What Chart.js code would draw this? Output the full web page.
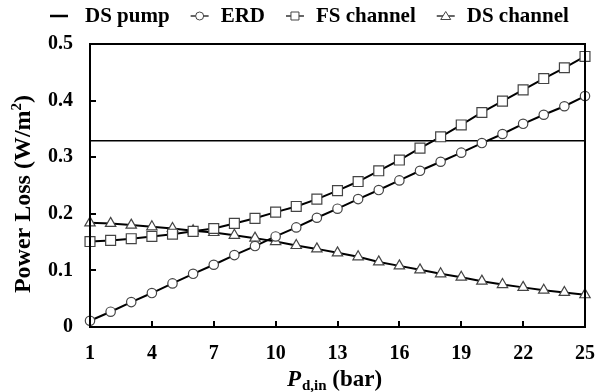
<!DOCTYPE html>
<html>
<head>
<meta charset="utf-8">
<script src="https://cdn.jsdelivr.net/npm/chart.js@4.4.1/dist/chart.umd.min.js"></script>
<style>
html,body{margin:0;padding:0;background:#fff;}
#wrap{width:610px;height:392px;}
</style>
</head>
<body>
<div id="wrap"><canvas id="c" width="610" height="392"></canvas></div>
<script>
// ---- data ----
const pressure = [1,2,3,4,5,6,7,8,9,10,11,12,13,14,15,16,17,18,19,20,21,22,23,24,25];
const erdLoss = [0.011,0.027,0.044,0.060,0.077,0.094,0.110,0.127,0.143,0.160,0.176,0.193,0.209,0.226,0.242,0.259,0.276,0.292,0.308,0.325,0.341,0.359,0.375,0.390,0.408];
const fsChannelLoss = [0.151,0.153,0.156,0.160,0.164,0.169,0.174,0.183,0.192,0.203,0.213,0.226,0.241,0.257,0.276,0.295,0.316,0.336,0.357,0.379,0.399,0.419,0.439,0.458,0.478];
const dsChannelLoss = [0.184,0.183,0.180,0.177,0.174,0.170,0.167,0.162,0.157,0.151,0.144,0.138,0.131,0.124,0.115,0.108,0.101,0.094,0.088,0.081,0.075,0.070,0.065,0.061,0.057];
const dsPumpX = [1,25];
const dsPumpLoss = [0.329,0.329];
const seriesNames = ['DS pump','ERD','FS channel','DS channel'];
const xTicks = [1,4,7,10,13,16,19,22,25];
const yTicks = [0,0.1,0.2,0.3,0.4,0.5];

const FONT = '"Liberation Serif", "Times New Roman", serif';
const toXY = (xs, ys) => xs.map((x, i) => ({x: x, y: ys[i]}));

const markerStyle = {
  borderColor: '#000', borderWidth: 2, pointBackgroundColor: '#fff',
  pointBorderColor: '#444', pointBorderWidth: 1.2, tension: 0, clip: false
};

const framePlugin = {
  id: 'frame',
  beforeDatasetsDraw(chart) {
    const {ctx, chartArea: a, scales} = chart;
    ctx.save();
    ctx.strokeStyle = '#000';
    ctx.lineWidth = 2;
    const xs = scales.x, ys = scales.y;
    ctx.beginPath();
    xs.ticks.forEach(t => {
      if (t.value === xs.min || t.value === xs.max) return;
      const px = Math.round(xs.getPixelForValue(t.value));
      ctx.moveTo(px, a.bottom); ctx.lineTo(px, a.bottom - 6);
    });
    ys.ticks.forEach(t => {
      if (t.value === ys.min || t.value === ys.max) return;
      const py = Math.round(ys.getPixelForValue(t.value));
      ctx.moveTo(a.left, py); ctx.lineTo(a.left + 6, py);
    });
    ctx.stroke();
    ctx.restore();
  },
  afterDraw(chart) {
    const {ctx, chartArea: a} = chart;
    ctx.save();
    ctx.strokeStyle = '#000';
    ctx.lineWidth = 2;
    ctx.strokeRect(a.left, a.top, a.right - a.left, a.bottom - a.top);

    // legend
    ctx.fillStyle = '#000';
    ctx.font = 'bold 21px ' + FONT;
    ctx.textBaseline = 'middle';
    ctx.textAlign = 'left';
    const ly = 16;
    let x = 50;
    const styles = [null, 'circle', 'rect', 'triangle'];
    seriesNames.forEach((name, i) => {
      ctx.beginPath();
      ctx.lineWidth = i === 0 ? 2.5 : 1.2;
      ctx.strokeStyle = '#000';
      ctx.moveTo(x, ly); ctx.lineTo(x + 18, ly);
      ctx.stroke();
      const cx = x + 9;
      ctx.lineWidth = 1;
      ctx.strokeStyle = '#444';
      ctx.fillStyle = '#fff';
      if (styles[i] === 'circle') {
        ctx.beginPath(); ctx.arc(cx, ly, 4, 0, Math.PI * 2); ctx.fill(); ctx.stroke();
      } else if (styles[i] === 'rect') {
        ctx.beginPath(); ctx.rect(cx - 4, ly - 4, 8, 8); ctx.fill(); ctx.stroke();
      } else if (styles[i] === 'triangle') {
        ctx.beginPath(); ctx.moveTo(cx, ly - 4.5); ctx.lineTo(cx + 5, ly + 3.5); ctx.lineTo(cx - 5, ly + 3.5); ctx.closePath(); ctx.fill(); ctx.stroke();
      }
      ctx.fillStyle = '#000';
      const tx = x + 18 + (i === 0 ? 17 : 12);
      ctx.fillText(name, tx, ly + 1);
      x = tx + ctx.measureText(name).width + 21;
    });

    // x title: P_d,in (bar)
    const cxT = (a.left + a.right) / 2 - 3;
    const by = 386;
    const f1 = 'italic bold 23px ' + FONT, f2 = 'bold 15px ' + FONT, f3 = 'bold 23px ' + FONT;
    ctx.textBaseline = 'alphabetic';
    ctx.font = f1; const w1 = ctx.measureText('P').width;
    ctx.font = f2; const w2 = ctx.measureText('d,in').width;
    ctx.font = f3; const w3 = ctx.measureText(' (bar)').width;
    let sx = cxT - (w1 + w2 + w3 + 1) / 2;
    ctx.font = f1; ctx.fillText('P', sx, by); sx += w1 + 1;
    ctx.font = f2; ctx.fillText('d,in', sx, by + 4); sx += w2;
    ctx.font = f3; ctx.fillText(' (bar)', sx, by);

    // y title
    ctx.save();
    ctx.translate(24, 194);
    ctx.rotate(-Math.PI / 2);
    const g1 = 'bold 24px ' + FONT, g2 = 'bold 15px ' + FONT;
    ctx.font = g1; const m1 = ctx.measureText('Power Loss (W/m').width;
    ctx.font = g2; const m2 = ctx.measureText('2').width;
    ctx.font = g1; const m3 = ctx.measureText(')').width;
    let px = -(m1 + m2 + m3) / 2;
    ctx.textBaseline = 'middle';
    ctx.font = g1; ctx.fillText('Power Loss (W/m', px, 0); px += m1;
    ctx.font = g2; ctx.fillText('2', px, -7); px += m2;
    ctx.font = g1; ctx.fillText(')', px, 0);
    ctx.restore();

    ctx.restore();
  }
};

new Chart(document.getElementById('c'), {
  type: 'line',
  data: {
    datasets: [
      Object.assign({label: seriesNames[1], data: toXY(pressure, erdLoss), pointStyle: 'circle', pointRadius: 4.7}, markerStyle),
      Object.assign({label: seriesNames[2], data: toXY(pressure, fsChannelLoss), pointStyle: 'rect', pointRadius: 7}, markerStyle),
      Object.assign({label: seriesNames[3], data: toXY(pressure, dsChannelLoss), pointStyle: 'triangle', pointRadius: 6}, markerStyle),
      {label: seriesNames[0], data: toXY(dsPumpX, dsPumpLoss), borderColor: '#000', borderWidth: 1.5, pointRadius: 0, tension: 0}
    ]
  },
  options: {
    responsive: false,
    animation: false,
    devicePixelRatio: 1,
    layout: {padding: {top: 44, right: 12, left: 0, bottom: 0}},
    plugins: {legend: {display: false}, tooltip: {enabled: false}},
    scales: {
      x: {
        type: 'linear', min: 1, max: 25,
        afterFit: s => { s.height = 65; },
        afterBuildTicks: s => { s.ticks = xTicks.map(v => ({value: v})); },
        grid: {display: false, drawTicks: false},
        border: {display: false},
        ticks: {color: '#000', font: {family: FONT, size: 20, weight: 'bold'}, padding: 15, maxRotation: 0}
      },
      y: {
        min: 0, max: 0.5,
        afterFit: s => { s.width = 90; },
        afterBuildTicks: s => { s.ticks = yTicks.map(v => ({value: v})); },
        grid: {display: false, drawTicks: false},
        border: {display: false},
        ticks: {color: '#000', font: {family: FONT, size: 20, weight: 'bold'}, padding: 17}
      }
    }
  },
  plugins: [framePlugin]
});
</script>
</body>
</html>
